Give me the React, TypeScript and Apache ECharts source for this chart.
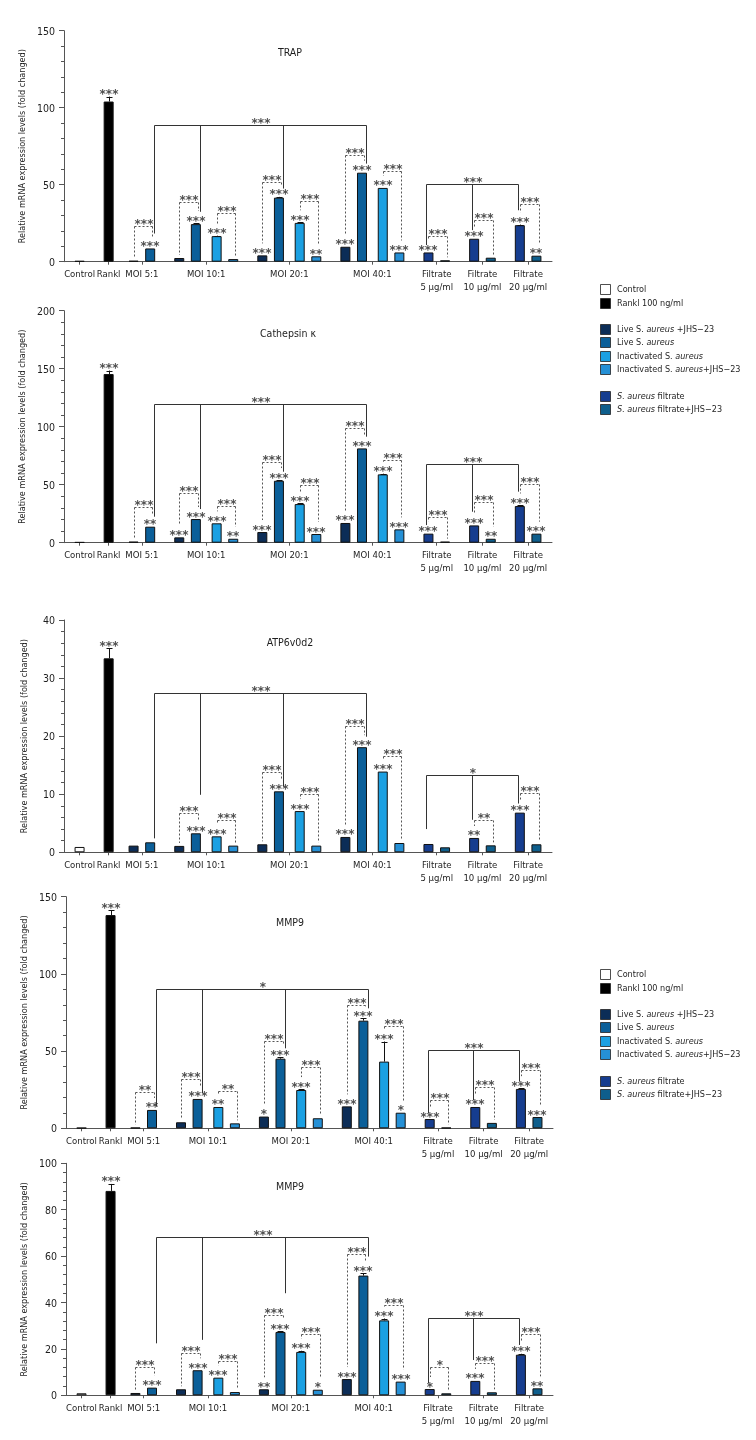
import React, { useEffect, useRef } from 'react';
import * as echarts from 'echarts';

// ---------------- DATA ----------------
const groupLabels = ['Control', 'Rankl', 'MOI 5:1', 'MOI 10:1', 'MOI 20:1', 'MOI 40:1', 'Filtrate\n5 µg/ml', 'Filtrate\n10 µg/ml', 'Filtrate\n20 µg/ml'];
const groupSizes = [1, 1, 2, 4, 4, 4, 2, 2, 2];
const barKinds = [
  'control', 'rankl',
  'liveJHS', 'live',
  'liveJHS', 'live', 'inact', 'inactJHS',
  'liveJHS', 'live', 'inact', 'inactJHS',
  'liveJHS', 'live', 'inact', 'inactJHS',
  'filt', 'filtJHS', 'filt', 'filtJHS', 'filt', 'filtJHS',
];
const legendKinds = ['control', 'rankl', 'liveJHS', 'live', 'inact', 'inactJHS', 'filt', 'filtJHS'];
const legendLabels = [
  'Control',
  'Rankl 100 ng/ml',
  'Live S. {i|aureus} +JHS−23',
  'Live S. {i|aureus}',
  'Inactivated S. {i|aureus}',
  'Inactivated S. {i|aureus}+JHS−23',
  '{i|S. aureus} filtrate',
  '{i|S. aureus} filtrate+JHS−23',
];
const yAxisName = 'Relative mRNA expression levels (fold changed)';
const panelTitles = ['TRAP', 'Cathepsin κ', 'ATP6v0d2', 'MMP9', 'MMP9'];
const yMaxes = [150, 200, 40, 150, 100];
const ySteps = [50, 50, 10, 50, 20];

// TRAP
const trapValues = [0.5, 104, 0.6, 8.6, 2.4, 24.4, 16.6, 1.7, 4.1, 41.6, 25.2, 3.5, 9.7, 57.8, 47.9, 6.0, 6.0, 0.9, 14.9, 2.6, 23.7, 3.9];
const trapErrors = [0, 3.2, 0, 0, 0, 0.7, 0.3, 0, 0, 0.5, 0.4, 0, 0, 0, 0, 0, 0, 0, 0, 0, 0.4, 0];
const trapStars = ['', '***', '', '***', '', '***', '***', '', '***', '***', '***', '**', '***', '***', '***', '***', '***', '', '***', '', '***', '**'];
const trapPairs = [[2, 3, 23.3, '***'], [4, 5, 38.8, '***'], [6, 7, 31.7, '***'], [8, 9, 51.8, '***'], [10, 11, 39.7, '***'], [12, 13, 69.5, '***'], [14, 15, 58.9, '***'], [16, 17, 16.6, '***'], [18, 19, 27.0, '***'], [20, 21, 37.3, '***']];
const trapGroups = [
  { legs: [[3, 18.3], [5, 32.4], [9, 47.5], [13, 63.7]], y: 88.9, label: '***' },
  { legs: [[16, 10.8], [18, 20.5], [20, 33.4]], y: 50.7, label: '***' },
];

// Cathepsin K
const catValues = [0.5, 145.4, 0.9, 13.8, 4.6, 20.4, 16.7, 3.4, 9.2, 53.4, 33.3, 7.5, 17.0, 81.3, 58.9, 11.5, 7.8, 0.9, 14.9, 3.4, 31.6, 7.8];
const catErrors = [0, 3, 0, 0, 0, 0, 0, 0, 0, 0.6, 0.5, 0, 0, 0, 0.6, 0, 0, 0, 0, 0, 0.5, 0];
const catStars = ['', '***', '', '**', '***', '***', '***', '**', '***', '***', '***', '***', '***', '***', '***', '***', '***', '', '***', '**', '***', '***'];
const catPairs = [[2, 3, 31, '***'], [4, 5, 42.5, '***'], [6, 7, 32, '***'], [8, 9, 69.3, '***'], [10, 11, 49.4, '***'], [12, 13, 98.9, '***'], [14, 15, 71, '***'], [16, 17, 22.4, '***'], [18, 19, 35.1, '***'], [20, 21, 50.3, '***']];
const catGroups = [
  { legs: [[3, 22.4], [5, 29], [9, 61.2], [13, 91.4]], y: 119.5, label: '***' },
  { legs: [[16, 15.2], [18, 26.7], [20, 44]], y: 67.8, label: '***' },
];

// ATP6v0d2
const atpValues = [0.92, 33.4, 1.15, 1.72, 1.1, 3.27, 2.75, 1.15, 1.38, 10.5, 7.1, 1.15, 2.64, 18.1, 13.9, 1.6, 1.43, 0.86, 2.47, 1.2, 6.83, 1.38];
const atpErrors = [0, 1.7, 0, 0, 0, 0, 0, 0, 0, 0, 0, 0, 0, 0, 0, 0, 0, 0, 0, 0, 0, 0];
const atpStars = ['', '***', '', '', '', '***', '***', '', '', '***', '***', '', '***', '***', '***', '', '', '', '**', '', '***', ''];
const atpPairs = [[4, 5, 6.7, '***'], [6, 7, 5.6, '***'], [8, 9, 13.9, '***'], [10, 11, 10.0, '***'], [12, 13, 21.8, '***'], [14, 15, 16.6, '***'], [18, 19, 5.6, '**'], [20, 21, 10.2, '***']];
const atpGroups = [
  { legs: [[3, 2.4], [5, 9.9], [9, 11.3], [13, 19.9]], y: 27.5, label: '***' },
  { legs: [[16, 4.0], [18, 5.6], [20, 8.4]], y: 13.3, label: '*' },
];

// MMP9 (first)
const mmpAValues = [0.3, 138.1, 0.4, 11.9, 3.9, 19.0, 13.8, 3.2, 7.6, 45.1, 24.8, 6.5, 14.2, 69.7, 43.2, 10.1, 6.0, 0.4, 13.8, 3.5, 25.5, 7.3];
const mmpAErrors = [0, 3, 0, 0, 0, 0, 0, 0, 0, 1, 0.6, 0, 0, 1.5, 13, 0, 0, 0, 0, 0, 0.5, 0];
const mmpAStars = ['', '***', '', '**', '', '***', '**', '', '*', '***', '***', '', '***', '***', '***', '*', '***', '', '***', '', '***', '***'];
const mmpAPairs = [[2, 3, 23.3, '**'], [4, 5, 31.7, '***'], [6, 7, 24.2, '**'], [8, 9, 56.8, '***'], [10, 11, 39.9, '***'], [12, 13, 79.9, '***'], [14, 15, 66.5, '***'], [16, 17, 18.3, '***'], [18, 19, 27, '***'], [20, 21, 37.8, '***']];
const mmpAGroups = [
  { legs: [[3, 14], [5, 22.7], [9, 51.8], [13, 77.7]], y: 90, label: '*' },
  { legs: [[16, 9.7], [18, 18.3], [20, 30.2]], y: 50.7, label: '***' },
];

// MMP9 (second)
const mmpBValues = [0.86, 88.1, 1.0, 3.3, 2.6, 10.8, 7.6, 1.4, 2.6, 27.3, 18.7, 2.4, 7.0, 51.6, 32.3, 5.9, 2.7, 0.86, 6.2, 1.3, 17.5, 3.0];
const mmpBErrors = [0, 3, 0, 0, 0, 0, 0, 0, 0, 0.4, 0.5, 0, 0, 1.1, 0.8, 0, 0, 0, 0, 0, 0.4, 0];
const mmpBStars = ['', '***', '', '***', '', '***', '***', '', '**', '***', '***', '*', '***', '***', '***', '***', '*', '', '***', '', '***', '**'];
const mmpBPairs = [[2, 3, 12.4, '***'], [4, 5, 18.1, '***'], [6, 7, 14.8, '***'], [8, 9, 34.6, '***'], [10, 11, 26.6, '***'], [12, 13, 60.8, '***'], [14, 15, 39.1, '***'], [16, 17, 12.1, '*'], [18, 19, 13.8, '***'], [20, 21, 26.6, '***']];
const mmpBGroups = [
  { legs: [[3, 22.4], [5, 23.9], [9, 44], [13, 59.8]], y: 68.4, label: '***' },
  { legs: [[16, 5.2], [18, 15.2], [20, 21.7]], y: 33.2, label: '***' },
];

// ---------------- LAYOUT / STYLE ----------------
const FONT = "'DejaVu Sans Condensed', 'Liberation Sans', sans-serif";
const STAR_FONT = "'DejaVu Sans', sans-serif";
const KIND_COLORS: Record<string, string> = {
  control: '#ffffff',
  rankl: '#000000',
  liveJHS: '#0c2d57',
  live: '#0b5f99',
  inact: '#1ba0e2',
  inactJHS: '#2590d6',
  filt: '#163d8f',
  filtJHS: '#0e5e8c',
};
const GRIDS = [
  { left: 64, top: 30.7, width: 488, height: 231 },
  { left: 64, top: 310.7, width: 488, height: 232 },
  { left: 64, top: 620, width: 488, height: 232.3 },
  { left: 66, top: 896.7, width: 487, height: 231.6 },
  { left: 66, top: 1163.3, width: 487, height: 232 },
];
const TITLE_POS = [[290, 52], [288, 333], [290, 642], [290, 922], [290, 1186]];
const LEGEND_TOPS = [289, 974];
const LEGEND_ROW_OFFSETS = [0, 13.5, 40, 53.3, 66.7, 80, 106.7, 120];
const LEGEND_X = 600;
const LEG_SHIFT = [2, -1]; // slot offsets of solid bracket legs (MOI, filtrate)
// slot layout in half-units
const LEAD = 7, TRAIL = 7, GAP_PAIR = 8, GAP_PAIRS = 10, GAP_GROUP = 14, GAP_RANKL = 12;
const AXIS_COLOR = '#555';
const TEXT_COLOR = '#1e1e1e';
const STAR_COLOR = '#505050';

const barSlots: number[] = [];
const groupCenters: number[] = [];
(() => {
  let pos = LEAD;
  groupSizes.forEach((n, g) => {
    if (g > 0) pos += g === 2 ? GAP_RANKL : GAP_GROUP;
    const start = pos;
    for (let k = 0; k < n; k++) {
      if (k > 0) pos += k === 2 ? GAP_PAIRS : GAP_PAIR;
      barSlots.push(pos);
    }
    groupCenters.push((start + pos) / 2);
  });
})();
const N_SLOTS = barSlots[barSlots.length - 1] + TRAIL + 1;
const slotNames = Array.from({ length: N_SLOTS }, (_, i) => 's' + i);
const labelAt: Record<number, string> = {};
groupCenters.forEach((c, g) => (labelAt[c] = groupLabels[g]));
const isCenter = (idx: number) => labelAt[idx] !== undefined;

const panels = [
  { values: trapValues, errors: trapErrors, stars: trapStars, pairs: trapPairs, groups: trapGroups },
  { values: catValues, errors: catErrors, stars: catStars, pairs: catPairs, groups: catGroups },
  { values: atpValues, errors: atpErrors, stars: atpStars, pairs: atpPairs, groups: atpGroups },
  { values: mmpAValues, errors: mmpAErrors, stars: mmpAStars, pairs: mmpAPairs, groups: mmpAGroups },
  { values: mmpBValues, errors: mmpBErrors, stars: mmpBStars, pairs: mmpBPairs, groups: mmpBGroups },
];

const crisp = (v: number) => Math.round(v) + 0.5;

function buildOption() {
  const grid: any[] = [];
  const xAxis: any[] = [];
  const yAxis: any[] = [];
  const series: any[] = [];
  const graphic: any[] = [];

  panels.forEach((p, i) => {
    grid.push({ ...GRIDS[i], containLabel: false });
    xAxis.push({
      type: 'category',
      gridIndex: i,
      data: slotNames,
      boundaryGap: true,
      axisLine: { show: true, onZero: false, lineStyle: { color: AXIS_COLOR, width: 1 } },
      axisTick: { show: true, alignWithLabel: true, interval: (idx: number) => isCenter(idx), length: 3, lineStyle: { color: AXIS_COLOR } },
      axisLabel: {
        show: true,
        interval: (idx: number) => isCenter(idx),
        formatter: (_v: string, idx: number) => labelAt[idx] ?? '',
        hideOverlap: false,
        fontSize: 9.5,
        fontFamily: FONT,
        color: TEXT_COLOR,
        lineHeight: 12.5,
        margin: 6,
      },
      splitLine: { show: false },
    });
    yAxis.push({
      type: 'value',
      gridIndex: i,
      min: 0,
      max: yMaxes[i],
      interval: ySteps[i],
      name: yAxisName,
      nameLocation: 'middle',
      nameGap: 36,
      nameTextStyle: { fontSize: 9, fontFamily: FONT, color: TEXT_COLOR },
      axisLine: { show: true, lineStyle: { color: AXIS_COLOR, width: 1 } },
      axisTick: { show: true, length: 5, lineStyle: { color: AXIS_COLOR } },
      minorTick: { show: true, splitNumber: 5, length: 3, lineStyle: { color: AXIS_COLOR } },
      splitLine: { show: false },
      minorSplitLine: { show: false },
      axisLabel: { fontSize: 10.5, fontFamily: FONT, color: TEXT_COLOR, margin: 9 },
    });

    const barData: any[] = Array(N_SLOTS).fill('-');
    p.values.forEach((v, b) => {
      barData[barSlots[b]] = { value: v, itemStyle: { color: KIND_COLORS[barKinds[b]] } };
    });
    series.push({
      type: 'bar',
      xAxisIndex: i,
      yAxisIndex: i,
      data: barData,
      barWidth: 10,
      itemStyle: { borderColor: '#111', borderWidth: 1 },
      silent: true,
    });

    const items: any[] = [];
    p.values.forEach((v, b) => { if (p.errors[b] > 0) items.push({ t: 'err', b }); });
    p.values.forEach((v, b) => { if (p.stars[b]) items.push({ t: 'star', b }); });
    p.pairs.forEach((pr) => items.push({ t: 'pair', pr }));
    p.groups.forEach((g, gi) => items.push({ t: 'grp', g, shift: LEG_SHIFT[gi] }));

    const top = (b: number) => p.values[b] + p.errors[b];
    const starOffset = 2.5;

    series.push({
      type: 'custom',
      xAxisIndex: i,
      yAxisIndex: i,
      clip: false,
      z: 5,
      silent: true,
      itemStyle: { color: STAR_COLOR },
      data: items.map((it) => {
        if (it.t === 'err' || it.t === 'star') return [barSlots[it.b], top(it.b)];
        if (it.t === 'pair') return [barSlots[it.pr[0]], it.pr[2]];
        return [barSlots[it.g.legs[0][0]], it.g.y];
      }),
      renderItem: (params: any, api: any) => {
        const it = items[params.dataIndex];
        const c = (slot: number, v: number) => api.coord([slot, v]);
        const line = (x1: number, y1: number, x2: number, y2: number, dashed: boolean, color: string) => ({
          type: 'line',
          shape: { x1, y1, x2, y2 },
          style: { stroke: color, lineWidth: 1, lineDash: dashed ? [2, 2] : null },
        });
        const text = (s: string, x: number, y: number) => ({
          type: 'text',
          style: {
            text: s, x: Math.round(x), y, align: 'center', verticalAlign: 'middle',
            fill: STAR_COLOR, fontSize: 12, fontWeight: 'bold', fontFamily: STAR_FONT,
          },
        });
        const legBottom = (b: number) => c(barSlots[b], top(b))[1] - (p.stars[b] ? 12 : 3);
        if (it.t === 'err') {
          const [x, y0] = c(barSlots[it.b], p.values[it.b]);
          const y1 = c(barSlots[it.b], top(it.b))[1];
          const xc = crisp(x);
          return {
            type: 'group',
            children: [line(xc, y0, xc, y1, false, '#111'), line(xc - 3, crisp(y1), xc + 3, crisp(y1), false, '#111')],
          };
        }
        if (it.t === 'star') {
          const [x, y] = c(barSlots[it.b], top(it.b));
          return text(p.stars[it.b], x, y - starOffset);
        }
        if (it.t === 'pair') {
          const [a, b, yv, lab] = it.pr;
          const xa = crisp(c(barSlots[a], 0)[0]);
          const xb = crisp(c(barSlots[b] + 1, 0)[0]);
          const yb = crisp(c(barSlots[a], yv)[1]);
          const children: any[] = [line(xa, yb, xb, yb, true, '#555')];
          const ba = legBottom(a);
          const bb = legBottom(b);
          if (ba > yb) children.push(line(xa, yb, xa, ba, true, '#555'));
          if (bb > yb) children.push(line(xb, yb, xb, bb, true, '#555'));
          children.push(text(lab, (xa + xb) / 2, yb - starOffset));
          return { type: 'group', children };
        }
        // solid group bracket
        const g = it.g;
        const yb = crisp(c(0, g.y)[1]);
        const xs = g.legs.map((l: number[]) => crisp(c(barSlots[l[0]] + it.shift, 0)[0]));
        const children: any[] = [line(Math.min(...xs), yb, Math.max(...xs), yb, false, '#333')];
        g.legs.forEach((l: number[], k: number) => {
          const yl = c(0, l[1])[1];
          children.push(line(xs[k], yb, xs[k], yl, false, '#333'));
        });
        children.push(text(g.label, (Math.min(...xs) + Math.max(...xs)) / 2, yb - starOffset));
        return { type: 'group', children };
      },
    });

    graphic.push({
      type: 'text',
      x: TITLE_POS[i][0],
      y: TITLE_POS[i][1],
      style: { text: panelTitles[i], align: 'center', verticalAlign: 'middle', fill: TEXT_COLOR, fontSize: 10.5, fontFamily: FONT },
    });
  });

  LEGEND_TOPS.forEach((y0) => {
    legendKinds.forEach((k, r) => {
      const y = y0 + LEGEND_ROW_OFFSETS[r];
      graphic.push({
        type: 'rect',
        shape: { x: LEGEND_X + 0.5, y: Math.round(y - 5) + 0.5, width: 10, height: 10 },
        style: { fill: KIND_COLORS[k], stroke: '#222', lineWidth: 0.8 },
      });
      graphic.push({
        type: 'text',
        x: LEGEND_X + 17,
        y: y,
        style: {
          text: legendLabels[r],
          verticalAlign: 'middle',
          fill: TEXT_COLOR,
          fontSize: 9,
          fontFamily: FONT,
          rich: { i: { fontStyle: 'italic', fontSize: 9, fontFamily: FONT, fill: TEXT_COLOR } },
        },
      });
    });
  });

  return {
    animation: false,
    grid,
    xAxis,
    yAxis,
    series,
    graphic,
  };
}

export default function App() {
  const ref = useRef<HTMLDivElement>(null);
  useEffect(() => {
    if (!ref.current) return;
    const chart = echarts.init(ref.current, undefined, { renderer: 'svg' });
    chart.setOption(buildOption() as any);
    return () => chart.dispose();
  }, []);
  return (
    <div
      ref={ref}
      style={{ position: 'absolute', left: 0, top: 0, width: 756, height: 1440, willChange: 'transform' }}
    />
  );
}
